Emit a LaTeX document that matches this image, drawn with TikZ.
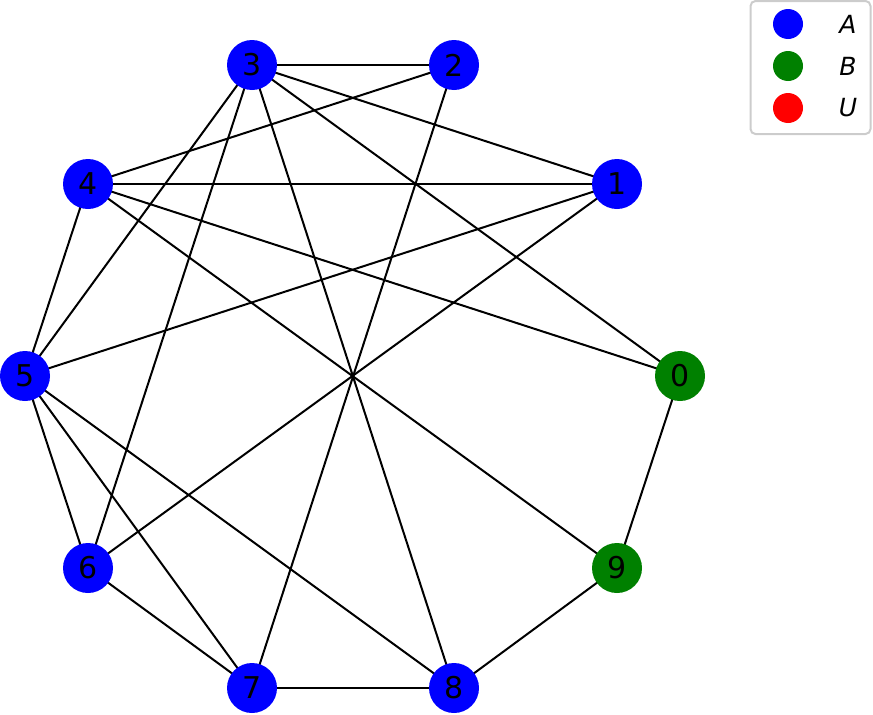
\documentclass[tikz,border=0pt]{standalone}
\usepackage{fontspec}
\setmainfont{DejaVu Sans}
\usetikzlibrary{backgrounds}
\definecolor{gA}{RGB}{0,0,255}
\definecolor{gB}{RGB}{0,128,0}
\definecolor{gU}{RGB}{255,0,0}
\definecolor{lgray}{RGB}{204,204,204}
\begin{document}
\begin{tikzpicture}[x=1pt,y=-1pt,
  vert/.style={circle,inner sep=0pt,minimum size=50pt,font=\fontsize{30}{30}\selectfont},
  va/.style={vert,fill=gA},
  vb/.style={vert,fill=gB},
  edge/.style={line width=2pt,black},
  ldot/.style={circle,inner sep=0pt,minimum size=30pt},
  ltext/.style={font=\fontsize{25}{25}\selectfont\itshape,anchor=center}]
\useasboundingbox (0,0) rectangle (873,715);
\node[vb] (n0) at (680,376) {0};
\node[va] (n1) at (617,184) {1};
\node[va] (n2) at (454,65) {2};
\node[va] (n3) at (252,65) {3};
\node[va] (n4) at (88,184) {4};
\node[va] (n5) at (25,376) {5};
\node[va] (n6) at (88,568) {6};
\node[va] (n7) at (252,688) {7};
\node[va] (n8) at (454,688) {8};
\node[vb] (n9) at (617,568) {9};
\begin{scope}[on background layer]
\foreach \a/\b in {3/2,3/1,3/0,3/8,3/5,3/6,2/4,2/7,4/1,4/0,4/9,4/5,5/1,5/6,5/7,5/8,1/6,6/7,7/8,8/9,9/0}
  \draw[edge] (n\a.center) -- (n\b.center);
\end{scope}
% legend
\node[draw=lgray,line width=2pt,rounded corners=5pt,minimum width=120pt,minimum height=133pt,inner sep=0pt] (leg) at (810.5,67.5) {};
\node[ldot,fill=gA] (la) at (788,24) {};
\node[ldot,fill=gB] (lb) at (788,66) {};
\node[ldot,fill=gU] (lu) at (788,108) {};
\node[ltext] (ta) at (848,24) {A};
\node[ltext] (tb) at (848,66) {B};
\node[ltext] (tu) at (848,108) {U};
\end{tikzpicture}
\end{document}
